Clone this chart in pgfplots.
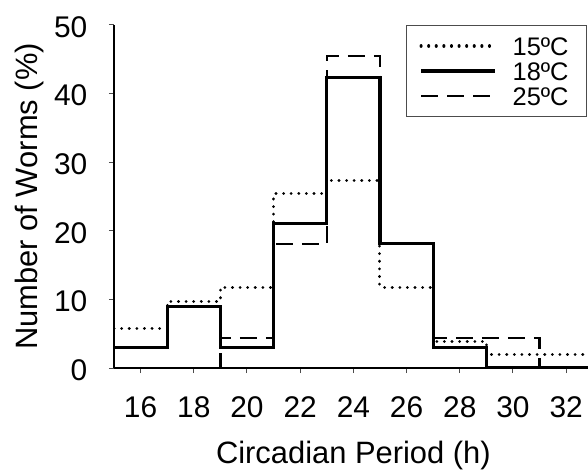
\documentclass[border=0pt]{standalone}
\usepackage{fontspec}
\setmainfont{Liberation Sans}
\usepackage{pgfplots}
\pgfplotsset{compat=1.18}
\begin{document}
\begin{tikzpicture}
\begin{axis}[
  scale only axis, width=474bp, height=343bp,
  xmin=15, xmax=32.82, ymin=0, ymax=50,
  axis lines*=left,
  axis line style={line width=2.6bp},
  xtick={16,18,...,32}, ytick={0,10,...,50},
  tick align=outside, major tick length=5bp,
  tick style={line width=1bp, black!70},
  /pgf/number format/assume math mode=true,
  ticklabel style={font=\fontsize{30}{30}\selectfont, inner sep=0pt},
  xticklabel style={anchor=base, yshift=-44bp},
  yticklabel style={anchor=east, xshift=-21.5bp, yshift=-2bp},
  xlabel={Circadian Period (h)},
  ylabel={Number of Worms (\%)},
  label style={font=\fontsize{31}{31}\selectfont, inner sep=0pt},
  xlabel style={at={(axis description cs:0.505,0)}, anchor=base, yshift=-95bp},
  ylabel style={at={(axis description cs:-0.1624,0.5)}, anchor=base, rotate=0},
  legend style={at={(axis description cs:0.998,1.0)}, anchor=north east,
    draw=black!70, line width=1bp, fill=white, inner xsep=13bp, inner ysep=8bp,
    font=\fontsize{25.5}{25.5}\selectfont,
    nodes={inner sep=0pt, text height=21.5bp, text depth=3.5bp},
    /tikz/every odd column/.append style={column sep=16bp}, row sep=0pt},
  legend cell align=left,
  legend image code/.code={\draw[#1] (0bp,0bp) -- (74bp,0bp);},
]
\coordinate (SW) at (rel axis cs:0,0);
\addplot[const plot, black, line width=3bp, line cap=round, dash pattern=on 0.1bp off 7.5bp]
  coordinates {(15,5.8)(17,9.7)(19,11.8)(21,25.4)(23,27.3)(25,11.8)(27,3.9)(29,1.9)(31,1.9)(33,1.9)};
\addlegendentry{15ºC\hspace*{5bp}}
\addplot[const plot, black, line width=3.3bp]
  coordinates {(15,3)(17,9)(19,3)(21,21.1)(23,42.3)(25,18.1)(27,3)(29,0)(33,0)};
\addlegendentry{18ºC\hspace*{5bp}}
\addplot[const plot, black, line width=2.5bp, dash pattern=on 17bp off 9bp]
  coordinates {(15,0)(19,4.4)(21,18.1)(23,45.5)(25,18.1)(27,4.4)(31,0)(33,0)};
\addlegendentry{25ºC\hspace*{5bp}}
\end{axis}
\pgfresetboundingbox
\path (SW) ++(-114bp,-102bp) rectangle ++(588bp,470bp);
\end{tikzpicture}
\end{document}
